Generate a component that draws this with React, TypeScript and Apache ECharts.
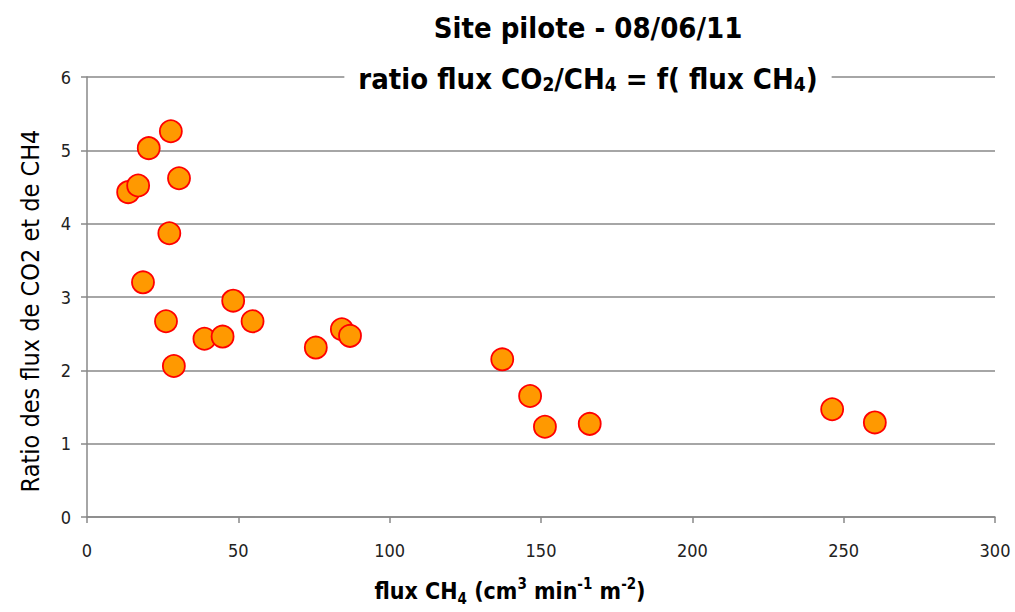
import React, { useEffect, useRef } from "react";
import * as echarts from "echarts";

const fluxCH4: number[] = [13.6, 16.9, 20.4, 27.7, 30.4, 27.2, 18.5, 26.1, 28.7, 38.8, 44.8, 48.3, 54.7, 75.6, 84.2, 86.9, 137.2, 146.4, 151.3, 166.1, 246.2, 260.3];
const ratio: number[] = [4.43, 4.52, 5.03, 5.26, 4.62, 3.87, 3.2, 2.67, 2.06, 2.43, 2.46, 2.95, 2.67, 2.31, 2.56, 2.47, 2.15, 1.65, 1.23, 1.27, 1.47, 1.29];

const titleLine1 = "Site pilote - 08/06/11";
const titleLine2Rich = "{b|ratio flux CO}{s|2}{b|/CH}{s|4}{b| = f( flux CH}{s|4}{b|)}";
const xAxisTitleRich = "{b|flux CH}{s|4}{b| (cm}{u|3}{b| min}{u|-1}{b| m}{u|-2}{b|)}";
const yAxisTitle = "Ratio des flux de CO2 et de CH4";

const FONT = "'DejaVu Sans Condensed', 'Open Sans', sans-serif";

export default function App() {
  const ref = useRef<HTMLDivElement>(null);
  useEffect(() => {
    document.body.style.margin = "0";
    if (!ref.current) return;
    const chart = echarts.init(ref.current, undefined, { renderer: "svg" });
    const data = fluxCH4.map((x, i) => [x, ratio[i]]);
    chart.setOption({
      animation: false,
      backgroundColor: "#ffffff",
      textStyle: { fontFamily: FONT },
      grid: { left: 87, right: 20, top: 77, bottom: 95, containLabel: false },
      xAxis: {
        type: "value",
        min: 0,
        max: 300,
        interval: 50,
        axisLine: { show: true, lineStyle: { color: "#888888", width: 1.5 } },
        axisTick: { show: true, length: 6, lineStyle: { color: "#888888", width: 1.5 } },
        axisLabel: { color: "#222222", fontSize: 18, margin: 24, fontFamily: FONT },
        splitLine: { show: false },
      },
      yAxis: {
        type: "value",
        min: 0,
        max: 6,
        interval: 1,
        axisLine: { show: true, lineStyle: { color: "#888888", width: 1.5 } },
        axisTick: { show: true, length: 6, lineStyle: { color: "#888888", width: 1.5 } },
        axisLabel: { color: "#222222", fontSize: 18, margin: 16, fontFamily: FONT },
        splitLine: { show: true, lineStyle: { color: "#888888", width: 1.5 } },
      },
      graphic: [
        {
          type: "text",
          z: 100,
          x: 588,
          y: 28,
          style: {
            text: titleLine1,
            font: `bold 29px ${FONT}`,
            fill: "#000000",
            align: "center",
            verticalAlign: "middle",
          },
        },
        {
          type: "text",
          z: 100,
          x: 588,
          y: 73,
          style: {
            text: titleLine2Rich,
            align: "center",
            verticalAlign: "middle",
            backgroundColor: "#ffffff",
            padding: [0, 14, 0, 14],
            rich: {
              b: { fontFamily: FONT, fontWeight: "bold", fontSize: 29, lineHeight: 40, color: "#000000", verticalAlign: "bottom" },
              s: { fontFamily: FONT, fontWeight: "bold", fontSize: 19, lineHeight: 22, color: "#000000", verticalAlign: "bottom" },
            },
          },
        },
        {
          type: "text",
          z: 100,
          x: 510,
          y: 591,
          style: {
            text: xAxisTitleRich,
            align: "center",
            verticalAlign: "middle",
            rich: {
              b: { fontFamily: FONT, fontWeight: "bold", fontSize: 23, lineHeight: 30, color: "#000000", verticalAlign: "middle" },
              s: { fontFamily: FONT, fontWeight: "bold", fontSize: 15, lineHeight: 16, color: "#000000", verticalAlign: "bottom" },
              u: { fontFamily: FONT, fontWeight: "bold", fontSize: 15, lineHeight: 18, color: "#000000", verticalAlign: "top" },
            },
          },
        },
        {
          type: "text",
          z: 100,
          x: 30,
          y: 311,
          rotation: Math.PI / 2,
          style: {
            text: yAxisTitle,
            font: `25px ${FONT}`,
            fill: "#000000",
            align: "center",
            verticalAlign: "middle",
          },
        },
      ],
      series: [
        {
          type: "scatter",
          data,
          symbol: "circle",
          symbolSize: 22,
          itemStyle: { color: "#FF9900", borderColor: "#FF0000", borderWidth: 1.8, opacity: 1 },
        },
      ],
    });
    return () => chart.dispose();
  }, []);
  return <div ref={ref} style={{ width: 1015, height: 612 }} />;
}
